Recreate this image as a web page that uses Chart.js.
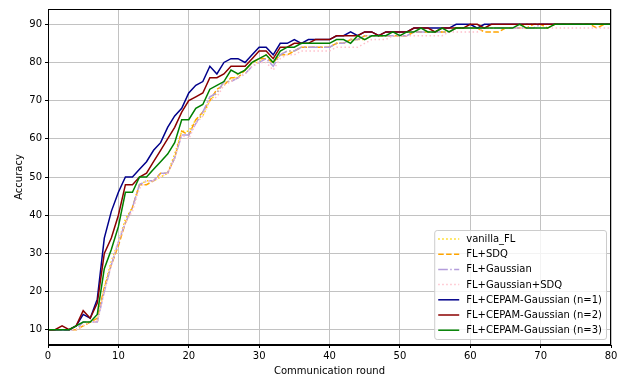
<!DOCTYPE html>
<html>
<head>
<meta charset="utf-8">
<script src="https://cdn.jsdelivr.net/npm/chart.js@4.4.0/dist/chart.umd.min.js"></script>
<style>
	html,body{margin:0;padding:0;background:#fff;}
	#wrap{width:628px;height:376px;}
</style>
</head>
<body>
<div id="wrap"><canvas id="chart" width="628" height="376"></canvas></div>
<script>
// communication rounds 0..80
var rounds=[0,1,2,3,4,5,6,7,8,9,10,11,12,13,14,15,16,17,18,19,20,21,22,23,24,25,26,27,28,29,30,31,32,33,34,35,36,37,38,39,40,41,42,43,44,45,46,47,48,49,50,51,52,53,54,55,56,57,58,59,60,61,62,63,64,65,66,67,68,69,70,71,72,73,74,75,76,77,78,79,80];
var xTicks=[0,10,20,30,40,50,60,70,80];
var yTicks=[10,20,30,40,50,60,70,80,90];

var vanillaFL=[10,10,10,10,10,11,12,12,21,28, 33,39,42,48,49,49,50,51,56,62, 62,65,66,70,72,75,75,77,78,80, 80,82,80,82,83,83,84,84,84,84,
	84,85,85,86,86,86,87,87,87,87, 87,87,88,88,88,88,88,88,89,89, 89,89,89,89,89,89,89,89,90,90, 90,90,90,90,90,90,90,90,90,90, 90];
var flSDQ=[10,10,10,10,10,11,12,13,21,27, 32,38,42,48,48,49,51,51,55,62, 61,65,67,70,73,74,76,76,78,80, 81,81,80,82,82,83,84,84,84,84,
	84,85,85,86,86,87,87,87,87,87, 87,87,88,88,88,88,88,88,89,89, 89,89,88,88,88,89,89,89,89,90, 90,89,90,90,90,90,90,90,89,90, 90];
var flGaussian=[10,10,10,10,10,12,12,12,20,27, 33,38,42,48,49,49,51,51,55,61, 61,64,67,71,72,75,75,76,77,79, 80,81,79,82,83,83,84,84,84,84,
	84,85,85,86,86,87,87,87,87,87, 87,87,88,88,88,88,88,88,89,89, 89,89,89,89,89,89,89,89,89,89, 90,90,90,90,90,90,90,90,90,90, 90];
var flGaussianSDQ=[10,10,10,10,10,11,12,12,20,27, 33,38,41,47,49,49,50,51,55,61, 60,64,66,70,71,74,75,76,77,79, 80,80,78,81,82,82,83,83,83,83,
	83,84,84,84,84,85,86,86,86,87, 87,87,87,87,87,87,87,88,88,88, 88,88,89,89,89,89,89,89,89,89, 89,89,89,89,89,89,89,89,89,89, 89];
var cepamN1=[10,10,10,10,11,14,13,18,34,41, 46,50,50,52,54,57,59,63,66,68, 72,74,75,79,77,80,81,81,80,82, 84,84,82,85,85,86,85,86,86,86,
	86,87,87,88,87,88,88,87,88,88, 88,88,89,89,89,89,89,89,90,90, 90,89,90,90,90,90,90,90,90,90, 90,90,90,90,90,90,90,90,90,90, 90];
var cepamN2=[10,10,11,10,11,15,13,17,30,34, 40,48,48,50,51,54,57,60,63,67, 70,71,72,76,76,77,79,79,79,81, 83,83,81,84,84,85,85,85,86,86,
	86,87,87,87,87,88,88,87,88,88, 88,88,89,89,89,88,89,89,89,89, 90,90,89,90,90,90,90,90,90,90, 90,90,90,90,90,90,90,90,90,90, 90];
var cepamN3=[10,10,10,10,11,12,12,14,26,31, 37,46,46,50,50,52,54,56,59,65, 65,68,69,73,74,75,78,77,78,80, 81,82,80,83,84,84,85,85,85,85,
	85,86,86,85,87,86,87,87,87,88, 87,88,88,89,88,88,89,88,89,89, 89,89,89,89,89,89,89,90,89,89, 89,89,90,90,90,90,90,90,90,90, 90];

var seriesNames=["vanilla_FL","FL+SDQ","FL+Gaussian","FL+Gaussian+SDQ","FL+CEPAM-Gaussian (n=1)","FL+CEPAM-Gaussian (n=2)","FL+CEPAM-Gaussian (n=3)"];
var seriesData=[vanillaFL,flSDQ,flGaussian,flGaussianSDQ,cepamN1,cepamN2,cepamN3];
var seriesColors=["#ffd700","#ffa500","#b39ddb","#ffc0cb","#00008b","#8b0000","#008000"];
var seriesDash=[[1.5,2.5],[5.5,2.4],[9.6,2.4,1.5,2.4],[1.5,2.5],[],[],[]];

var FONT="'DejaVu Sans', sans-serif";

function points(values){
	var pts=[];
	for(var i=0;i<rounds.length;i++){
		pts.push({x:rounds[i],y:values[i]});
	}
	return pts;
}

var datasets=[];
for(var i=0;i<seriesNames.length;i++){
	datasets.push({
		label:seriesNames[i],
		data:points(seriesData[i]),
		borderColor:seriesColors[i],
		backgroundColor:seriesColors[i],
		borderDash:seriesDash[i],
		borderWidth:1.5,
		pointRadius:0,
		tension:0,
		fill:false,
		order:seriesNames.length-i
	});
}

// top/right spines and the matplotlib-like legend box
var framePlugin={
	id:"frame",
	afterDraw:function(chart){
		var ctx=chart.ctx,a=chart.chartArea;
		ctx.save();
		ctx.strokeStyle="#000";
		ctx.lineWidth=1;
		ctx.strokeRect(Math.round(a.left)+0.5,Math.round(a.top)+0.5,Math.round(a.right-a.left)-1,Math.round(a.bottom-a.top)-1);

		ctx.font="10px "+FONT;
		var maxW=0;
		for(var i=0;i<datasets.length;i++){
			maxW=Math.max(maxW,ctx.measureText(datasets[i].label).width);
		}
		var rowH=15.2,pad=4,handle=21,gap=7;
		var w=pad+handle+gap+maxW+pad;
		var h=109;
		var x=a.right-5-w,y=a.bottom-6-h;
		ctx.beginPath();
		ctx.roundRect(x+0.5,y+0.5,w,h,2.5);
		ctx.fillStyle="rgba(255,255,255,0.8)";
		ctx.fill();
		ctx.strokeStyle="#cccccc";
		ctx.stroke();
		ctx.textBaseline="middle";
		ctx.textAlign="left";
		for(var i=0;i<datasets.length;i++){
			var ds=datasets[i];
			var cy=y+9+i*rowH;
			ctx.beginPath();
			ctx.setLineDash(ds.borderDash);
			ctx.strokeStyle=ds.borderColor;
			ctx.lineWidth=1.5;
			ctx.moveTo(x+pad,cy);
			ctx.lineTo(x+pad+handle,cy);
			ctx.stroke();
			ctx.setLineDash([]);
			ctx.fillStyle="#000";
			ctx.fillText(ds.label,x+pad+handle+gap,cy+0.5);
		}
		ctx.restore();
	}
};

new Chart("chart",{
	type:"line",
	data:{datasets:datasets},
	options:{
		responsive:false,
		animation:false,
		events:[],
		layout:{padding:{left:0,right:17,top:9,bottom:0}},
		plugins:{legend:{display:false},tooltip:{enabled:false}},
		scales:{
			x:{
				type:"linear",min:0,max:80,
				afterBuildTicks:function(scale){scale.ticks=xTicks.map(function(v){return {value:v};});},
				afterFit:function(scale){scale.height=31;},
				grid:{color:"#c2c2c2",lineWidth:1,tickLength:3,tickColor:"#000",tickWidth:1},
				border:{display:true,color:"#000",width:1},
				ticks:{color:"#000",padding:2,maxRotation:0,font:{family:FONT,size:10}},
				title:{display:true,text:"Communication round",color:"#000",padding:{top:0,bottom:0},font:{family:FONT,size:10,lineHeight:1}}
			},
			y:{
				type:"linear",min:6,max:94,
				afterBuildTicks:function(scale){scale.ticks=yTicks.map(function(v){return {value:v};});},
				afterFit:function(scale){scale.width=48;},
				grid:{color:"#c2c2c2",lineWidth:1,tickLength:3,tickColor:"#000",tickWidth:1},
				border:{display:true,color:"#000",width:1},
				ticks:{color:"#000",padding:3,font:{family:FONT,size:10}},
				title:{display:true,text:"Accuracy",color:"#000",padding:{top:13,bottom:0},font:{family:FONT,size:10}}
			}
		}
	},
	plugins:[framePlugin]
});
</script>
</body>
</html>
